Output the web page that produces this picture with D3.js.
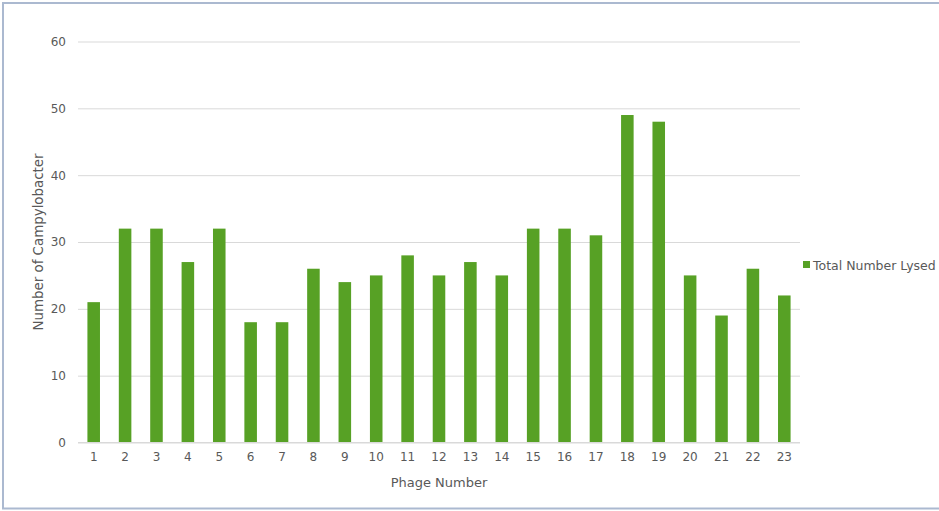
<!DOCTYPE html>
<html>
<head>
<meta charset="utf-8">
<script src="https://cdn.jsdelivr.net/npm/d3@7"></script>
<style>
  html, body { margin: 0; padding: 0; background: #fff; }
  svg { display: block; }
  text { font-family: "DejaVu Sans", "Liberation Sans", sans-serif; fill: #595959; }
</style>
</head>
<body>
<svg id="chart" width="939" height="511"></svg>
<script>
// Phage numbers and how many Campylobacter isolates each one lysed
const phages = ["1","2","3","4","5","6","7","8","9","10","11","12","13","14","15","16","17","18","19","20","21","22","23"];
const totalLysed = [21,32,32,27,32,18,18,26,24,25,28,25,27,25,32,32,31,49,48,25,19,26,22];
const yTicks = [0,10,20,30,40,50,60];
const seriesName = "Total Number Lysed";

const svg = d3.select("#chart");
const W = 939, H = 511;

// outer frame (runs past the right edge)
svg.append("rect")
  .attr("x", 3).attr("y", 3)
  .attr("width", W + 10).attr("height", H - 5.5)
  .attr("fill", "#fff").attr("stroke", "#ABB9D0").attr("stroke-width", 2);

const plot = { left: 78, right: 800, top: 41.5, bottom: 442.5 };

const x = d3.scaleBand()
  .domain(phages)
  .range([plot.left, plot.right])
  .paddingInner(0.6)
  .paddingOuter(0.3);

const y = d3.scaleLinear()
  .domain([0, 60])
  .range([plot.bottom, plot.top]);

// horizontal gridlines with value labels
const yAxis = d3.axisLeft(y)
  .tickValues(yTicks)
  .tickSize(-(plot.right - plot.left))
  .tickPadding(12);

const gy = svg.append("g")
  .attr("transform", `translate(${plot.left},0)`)
  .call(yAxis);
gy.select(".domain").remove();
gy.selectAll(".tick line").attr("stroke", "#D9D9D9").attr("stroke-width", 1);
gy.selectAll(".tick text")
  .attr("fill", "#595959")
  .style("font-family", "'DejaVu Sans', sans-serif")
  .style("font-size", "12px");

// bars
svg.append("g")
  .selectAll("rect")
  .data(totalLysed)
  .join("rect")
  .attr("x", (d, i) => x(phages[i]))
  .attr("y", d => y(d))
  .attr("width", x.bandwidth())
  .attr("height", d => y(0) - y(d))
  .attr("fill", "#57A125");

// category axis
const xAxis = d3.axisBottom(x).tickSize(0).tickPadding(10);
const gx = svg.append("g")
  .attr("transform", `translate(0,${plot.bottom})`)
  .call(xAxis);
gx.select(".domain").attr("stroke", "#D9D9D9").attr("d", `M${plot.left},0H${plot.right}`);
gx.selectAll(".tick text")
  .attr("fill", "#595959")
  .style("font-family", "'DejaVu Sans', sans-serif")
  .style("font-size", "12px");

// axis titles
svg.append("text")
  .attr("x", (plot.left + plot.right) / 2)
  .attr("y", 487)
  .attr("text-anchor", "middle")
  .style("font-size", "13px")
  .text("Phage Number");

svg.append("text")
  .attr("transform", `translate(43,${(plot.top + plot.bottom) / 2}) rotate(-90)`)
  .attr("text-anchor", "middle")
  .style("font-size", "13.4px")
  .text("Number of Campylobacter");

// legend
const lg = svg.append("g").attr("transform", "translate(803,261)");
lg.append("rect").attr("width", 7).attr("height", 7).attr("fill", "#57A125");
lg.append("text")
  .attr("x", 10).attr("y", 8.5)
  .style("font-size", "12.5px")
  .text(seriesName);
</script>
</body>
</html>
